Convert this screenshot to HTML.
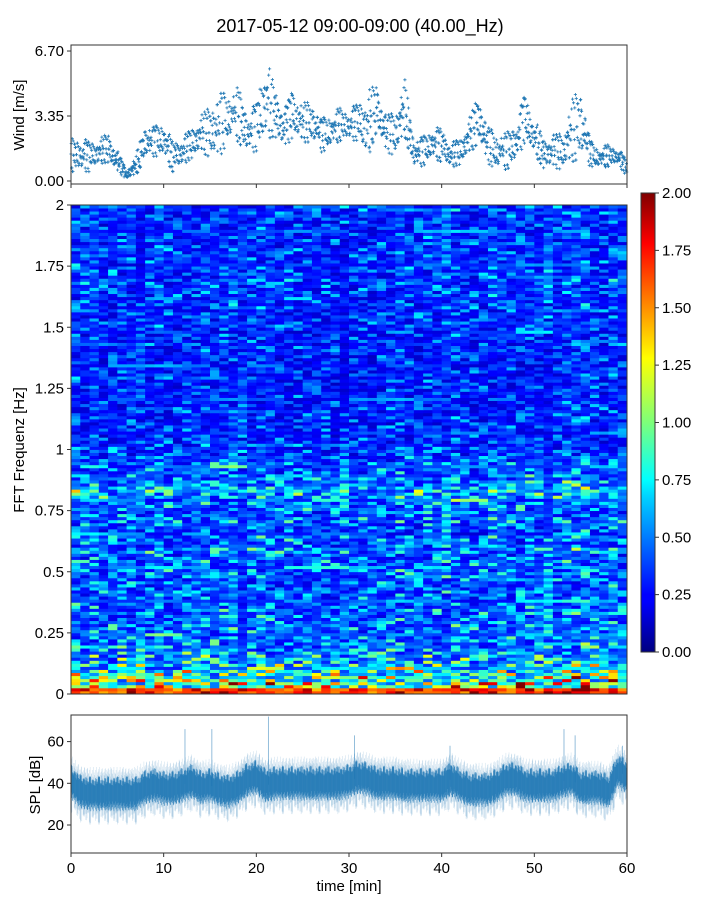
<!DOCTYPE html>
<html><head><meta charset="utf-8">
<style>
html,body{margin:0;padding:0;background:#fff;}
svg{display:block;font-family:"Liberation Sans","DejaVu Sans",sans-serif;}
</style></head>
<body>
<svg id="fig" width="720" height="900" xmlns="http://www.w3.org/2000/svg">
<defs>
<linearGradient id="jet" x1="0" y1="1" x2="0" y2="0">
<stop offset="0" stop-color="#000080"/><stop offset="0.11" stop-color="#0000ff"/>
<stop offset="0.125" stop-color="#0000ff"/><stop offset="0.34" stop-color="#00d4ff"/>
<stop offset="0.375" stop-color="#0ff"/><stop offset="0.5" stop-color="#7dff7a"/>
<stop offset="0.64" stop-color="#ff0"/><stop offset="0.89" stop-color="#f00"/>
<stop offset="1" stop-color="#800000"/>
</linearGradient>
</defs>
<text x="360" y="32" text-anchor="middle" font-size="18">2017-05-12 09:00-09:00 (40.00_Hz)</text>
<g id="wind"></g>
<g id="spec"></g>
<g id="cbar"></g>
<g id="spl"></g>
<text x="24" y="115" transform="rotate(-90 24 115)" text-anchor="middle" font-size="15">Wind [m/s]</text>
<text x="24" y="450" transform="rotate(-90 24 450)" text-anchor="middle" font-size="15">FFT Frequenz [Hz]</text>
<text x="40" y="785" transform="rotate(-90 40 785)" text-anchor="middle" font-size="15">SPL [dB]</text>
<text x="349" y="891" text-anchor="middle" font-size="15">time [min]</text>
</svg>
<script>
// ---- data ----
const minutes = [0,1,2,3,4,5,6,7,8,9,10,11,12,13,14,15,16,17,18,19,20,21,22,23,24,25,26,27,28,29,30,31,32,33,34,35,36,37,38,39,40,41,42,43,44,45,46,47,48,49,50,51,52,53,54,55,56,57,58,59,60];
const windMean = [1.3,1.4,1.2,1.5,1.7,1.0,0.3,0.8,2.0,2.0,2.2,1.2,1.5,1.9,2.4,2.5,2.8,3.3,3.4,2.5,2.7,4.3,3.5,2.6,3.5,3.0,3.0,2.3,2.6,2.9,2.9,3.0,2.8,3.8,2.4,2.4,3.8,1.4,1.5,2.0,1.8,1.3,1.5,2.3,3.2,1.8,1.5,1.5,2.0,3.2,2.3,1.4,1.5,1.5,2.5,3.0,1.4,1.2,1.3,1.3,0.6];
const windSpread = [0.9,1.0,0.8,0.7,0.8,0.6,0.2,0.6,0.9,0.8,1.0,0.8,0.8,0.8,1.0,1.4,1.8,1.3,1.5,1.2,1.3,2.4,1.3,1.1,1.3,1.1,1.1,0.9,1.0,0.9,0.9,1.0,1.9,1.3,1.0,1.2,1.6,0.8,0.8,0.9,0.9,0.7,0.7,1.0,1.3,1.0,1.0,1.0,1.2,1.3,1.0,0.8,0.9,1.0,1.7,2.0,0.7,0.6,0.6,0.5,0.4];
const windTicks = [0,3.35,6.7];
const windTickLabels = ["0.00","3.35","6.70"];
const freqProfile = [1.6,1.1,0.95,0.85,0.75,0.65,0.6,0.55,0.52,0.52,
 0.5,0.5,0.48,0.5,0.47,0.45,0.48,0.45,0.45,0.5,
 0.5,0.48,0.45,0.55,0.45,0.5,0.42,0.45,0.5,0.45,
 0.5,0.55,0.6,0.66,0.55,0.5,0.45,0.5,0.42,0.4,
 0.38,0.36,0.35,0.36,0.34,0.35,0.36,0.33,0.35,0.34,0.33,0.35,0.34,0.36,0.33,0.34,0.35,0.36,0.35,0.37,
 0.38,0.37,0.36,0.38,0.37,0.4,0.38,0.42,0.38,0.4,0.38,0.37,0.39,0.36,0.37,0.38,0.36,0.37,0.38,0.4];
const timeFactor = [1.1,1.0,1.05,0.95,1.0,1.0,1.0,0.95,1.0,1.05,1.0,0.95,1.0,1.0,1.05,1.0,1.05,1.1,1.0,1.0,1.05,1.0,0.95,1.0,1.0,1.0,0.95,1.0,0.95,1.0,0.95,1.0,0.95,1.0,1.0,1.05,1.0,1.0,1.05,1.0,1.05,1.1,1.0,1.0,1.0,1.05,1.0,1.0,1.0,1.05,1.0,1.05,1.0,1.1,1.1,1.15,1.05,1.0,1.1,1.0];
const cellTexture = [0.55,1.4,0.8,0.45,1.0,1.7,0.65,0.9,1.2,0.5,0.75,1.55,0.6,1.05,0.85,0.4,1.3,0.7,1.9,0.95,0.6,1.1,0.5,0.8,1.45,0.7,1.0,0.55,1.25,0.85,0.45,1.6,0.75,1.0,0.65,1.15,0.9];
const freqTicks = [0,0.25,0.5,0.75,1,1.25,1.5,1.75,2];
const freqTickLabels = ["0","0.25","0.5","0.75","1","1.25","1.5","1.75","2"];
const cbarTicks = [0,0.25,0.5,0.75,1,1.25,1.5,1.75,2];
const cbarTickLabels = ["0.00","0.25","0.50","0.75","1.00","1.25","1.50","1.75","2.00"];
const splMean = [40.8,36,35,35,35,35,35,35,38,39,37.6,37.6,39,41,38,39,37,36,38,41.6,43,39,40,40,40,40,40,40,40,40,41,43,42,40,40,40,39,39,39,39,39,42,39,37,37,37,39,42,42,39,39,39,39,40.8,42,38,38,38,36,46,43];
const splSpikeTimes = [12.3,15.2,21.3,30.6,40.9,53.2,54.4,59.5];
const splSpikeValues = [66,66,72,63,58,66,63,58];
const splTicks = [20,40,60];
const splTickLabels = ["20","40","60"];
const timeTicks = [0,10,20,30,40,50,60];
const timeTickLabels = ["0","10","20","30","40","50","60"];

// ---- scales ----
const X0=71, X1=627;
const xs = t => X0 + t/60*(X1-X0);
const yWind = v => 181 - v*19.4;
const yFreq = f => 694 - f/2*489;
const yCbar = v => 652 - v/2*459;
const ySpl = d => 825 - (d-20)*2.085;
const NS="http://www.w3.org/2000/svg";
function mk(tag, attrs, parent){const e=document.createElementNS(NS,tag);for(const k in attrs)e.setAttribute(k,attrs[k]);parent.appendChild(e);return e;}
function interp(arr,t){const i=Math.min(Math.floor(t),arr.length-2);const f=t-i;return arr[i]*(1-f)+arr[i+1]*f;}
const osc=[0.1,-0.6,0.8,-0.2,0.4,-0.9,0.3,-0.4,0.95,-0.1,0.6,-0.7,0.2,-0.3,0.7,-0.5,0.0];
function jet(v){v=Math.max(0,Math.min(1,v));
 const r=Math.max(0,Math.min(1,1.5-Math.abs(4*v-3))),g=Math.max(0,Math.min(1,1.5-Math.abs(4*v-2))),b=Math.max(0,Math.min(1,1.5-Math.abs(4*v-1)));
 return `rgb(${Math.round(r*255)},${Math.round(g*255)},${Math.round(b*255)})`;}
function frame(g,y0,y1,name){const r=mk('rect',{x:X0,y:y0,width:X1-X0,height:y1-y0,fill:'none',stroke:'#333','stroke-width':1},g);
 
 }
function yTick(g,y,label,name,x){const l=mk('line',{x1:X0-4,x2:X0,y1:y,y2:y,stroke:'#333'},g);
 
 
 const t=mk('text',{x:x||X0-7,y:y+5,'text-anchor':'end','font-size':15},g);t.textContent=label;
 
 }
function xTicks(g,yb,labels){timeTicks.forEach((tv,i)=>{const l=mk('line',{x1:xs(tv),x2:xs(tv),y1:yb,y2:yb+4,stroke:'#333'},g);
 
 
 if(labels){const t=mk('text',{x:xs(tv),y:yb+20,'text-anchor':'middle','font-size':15},g);t.textContent=timeTickLabels[i];
 
 }});}

// ---- wind ----
const gw=document.getElementById('wind');
let d='';
for(let k=0;k<3600;k+=2){const t=k/60;const m=interp(windMean,t),s=interp(windSpread,t);
 let v=m+s*osc[(k*7+Math.floor(k/34)+Math.floor(k/6)*3)%17];if(v<0)v=0.02;
 const x=xs(t),y=yWind(v);d+=`M${(x-1.6).toFixed(1)} ${y.toFixed(1)}h3.2M${x.toFixed(1)} ${(y-1.6).toFixed(1)}v3.2`;}
const wp=mk('path',{d:d,stroke:'#1f77b4','stroke-width':0.8,fill:'none'},gw);


frame(gw,45,184,'wind-axes-frame');
windTicks.forEach((v,i)=>yTick(gw,yWind(v),windTickLabels[i],'wind-y'));
xTicks(gw,184,false);

// ---- spectrogram ----
const gs=document.getElementById('spec');
const nRows=freqProfile.length*2, nCols=timeFactor.length;
for(let r=0;r<nRows;r++){const f0=r*0.0125;
 for(let c=0;c<nCols;c++){
  const base=freqProfile[Math.floor(r/2)]*timeFactor[c];
  const tex=cellTexture[(r*7+c*3+(r*c)%11)%37];
  const val=r<2?base*(0.8+0.25*tex):base*tex;
  const x=xs(c),y=yFreq(f0+0.0125);
  const e=mk('rect',{x:x.toFixed(2),y:y.toFixed(2),width:(xs(c+1)-x+0.4).toFixed(2),height:(yFreq(f0)-y+0.4).toFixed(2),fill:jet(val/2)},gs);
  
  
 }}
frame(gs,205,694,'spectrogram-axes-frame');
freqTicks.forEach((v,i)=>yTick(gs,yFreq(v),freqTickLabels[i],'frequency-y'));

// ---- colorbar ----
const gc=document.getElementById('cbar');
const cb=mk('rect',{x:641,y:193,width:14,height:459,fill:'url(#jet)',stroke:'#333','stroke-width':1},gc);


cbarTicks.forEach((v,i)=>{const y=yCbar(v);const l=mk('line',{x1:655,x2:659,y1:y,y2:y,stroke:'#333'},gc);
 
 
 const t=mk('text',{x:662,y:y+5,'font-size':15},gc);t.textContent=cbarTickLabels[i];
 
 });

// ---- SPL ----
const gp=document.getElementById('spl');
let dl='',dd='';
for(let k=0;k<=1800;k++){const t=k/30;const m=interp(splMean,t);
 const a=osc[(k*5+Math.floor(k/13))%17],b=osc[(k*11+3+Math.floor(k/7))%17];
 const x=xs(t).toFixed(2);
 dl+=`M${x} ${ySpl(m+9+4*a).toFixed(1)}V${ySpl(m-10-5*b).toFixed(1)}`;
 dd+=`M${x} ${ySpl(m+6+2.5*b).toFixed(1)}V${ySpl(m-6-2.5*a).toFixed(1)}`;}
const pl=mk('path',{d:dl,stroke:'#1f77b4','stroke-width':0.4,'stroke-opacity':0.3,fill:'none'},gp);


const pd=mk('path',{d:dd,stroke:'#1f77b4','stroke-width':0.45,fill:'none'},gp);


splSpikeTimes.forEach((t,i)=>{const s=mk('line',{x1:xs(t),x2:xs(t),y1:ySpl(splSpikeValues[i]),y2:ySpl(interp(splMean,t)),stroke:'#1f77b4','stroke-width':0.8,'stroke-opacity':0.6},gp);
 
 });
frame(gp,715,853,'spl-axes-frame');
splTicks.forEach((v,i)=>yTick(gp,ySpl(v),splTickLabels[i],'spl-y'));
xTicks(gp,853,true);
</script>
</body></html>
